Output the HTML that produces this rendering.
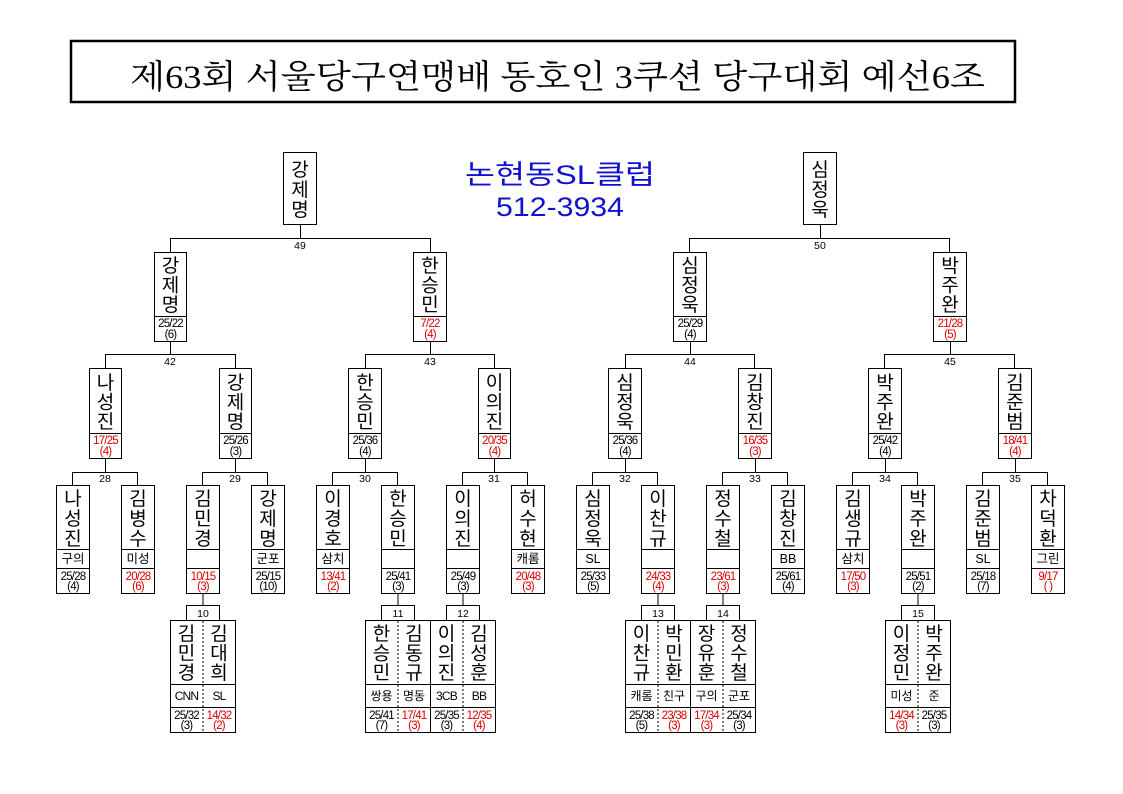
<!DOCTYPE html>
<html><head><meta charset="utf-8"><style>
html,body{margin:0;padding:0;background:#fff}
svg{display:block}
.n{font-family:"Liberation Sans","Noto Sans CJK KR",sans-serif;font-size:19px;text-anchor:middle;fill:#000}
.s{font-family:"Liberation Sans","Noto Sans CJK KR",sans-serif;font-size:11.5px;text-anchor:middle;fill:#000;letter-spacing:-0.8px}
.r{fill:#d00}
.c{font-family:"Liberation Sans","Noto Sans CJK KR",sans-serif;font-size:12.5px;text-anchor:middle;fill:#000}
.l{font-family:"Liberation Sans",sans-serif;font-size:10.5px;text-anchor:middle;fill:#000}
rect{fill:#fff;stroke:#000;stroke-width:1}
line,path{stroke:#000;stroke-width:1;fill:none}
.d{stroke-dasharray:2,2}
</style></head><body>
<svg width="1123" height="794" viewBox="0 0 1123 794" xmlns="http://www.w3.org/2000/svg">
<rect x="71" y="41" width="944" height="61" style="stroke-width:2.5"/>
<text x="130" y="88" textLength="855" lengthAdjust="spacingAndGlyphs" style="font-family:'Liberation Serif','Noto Serif CJK SC',serif;font-size:33px;fill:#000">제63회 서울당구연맹배 동호인 3쿠션 당구대회 예선6조</text>
<text x="560" y="184" textLength="190" lengthAdjust="spacingAndGlyphs" style="font-family:'Liberation Sans','Noto Sans CJK KR',sans-serif;font-size:27px;fill:#1010d0;text-anchor:middle">논현동SL클럽</text>
<text x="560" y="216" textLength="128" lengthAdjust="spacingAndGlyphs" style="font-family:'Liberation Sans',sans-serif;font-size:27px;fill:#1010d0;text-anchor:middle">512-3934</text>

<rect x="283.5" y="152.5" width="33" height="72"/>
<text class="n" y="176"><tspan x="300">강</tspan><tspan x="300" dy="20">제</tspan><tspan x="300" dy="20">명</tspan></text>
<rect x="803.5" y="152.5" width="33" height="72"/>
<text class="n" y="176"><tspan x="820">심</tspan><tspan x="820" dy="20">정</tspan><tspan x="820" dy="20">욱</tspan></text>
<path d="M300.5 224v14.5M170.5 252v-13.5h260v13.5"/><text class="l" x="300" y="249">49</text>
<path d="M820.5 224v14.5M689.5 252v-13.5h260v13.5"/><text class="l" x="820" y="249">50</text>

<g>
<rect x="154.5" y="252.5" width="32" height="89"/><line x1="154.5" y1="316.5" x2="186.5" y2="316.5"/>
<text class="n" y="272"><tspan x="170.5">강</tspan><tspan x="170.5" dy="19.5">제</tspan><tspan x="170.5" dy="19.5">명</tspan></text>
<text class="s" x="170.5" y="327">25/22</text><text class="s" x="170.5" y="338">(6)</text>
<rect x="413.5" y="252.5" width="33" height="89"/><line x1="413.5" y1="316.5" x2="446.5" y2="316.5"/>
<text class="n" y="272"><tspan x="430">한</tspan><tspan x="430" dy="19.5">승</tspan><tspan x="430" dy="19.5">민</tspan></text>
<text class="s r" x="430" y="327">7/22</text><text class="s r" x="430" y="338">(4)</text>
<rect x="673.5" y="252.5" width="33" height="89"/><line x1="673.5" y1="316.5" x2="706.5" y2="316.5"/>
<text class="n" y="272"><tspan x="690">심</tspan><tspan x="690" dy="19.5">정</tspan><tspan x="690" dy="19.5">욱</tspan></text>
<text class="s" x="690" y="327">25/29</text><text class="s" x="690" y="338">(4)</text>
<rect x="933.5" y="252.5" width="33" height="89"/><line x1="933.5" y1="316.5" x2="966.5" y2="316.5"/>
<text class="n" y="272"><tspan x="950">박</tspan><tspan x="950" dy="19.5">주</tspan><tspan x="950" dy="19.5">완</tspan></text>
<text class="s r" x="950" y="327">21/28</text><text class="s r" x="950" y="338">(5)</text>
</g>
<path d="M170.5 341v13.5M105.5 368v-13.5h130v13.5"/><text class="l" x="170" y="365">42</text>
<path d="M430.5 341v13.5M365.5 368v-13.5h129v13.5"/><text class="l" x="430" y="365">43</text>
<path d="M690.5 341v13.5M625.5 368v-13.5h129v13.5"/><text class="l" x="690" y="365">44</text>
<path d="M950.5 341v13.5M884.5 368v-13.5h130v13.5"/><text class="l" x="950" y="365">45</text>

<g>
<rect x="89.5" y="368.5" width="32" height="90"/><line x1="89.5" y1="433.5" x2="121.5" y2="433.5"/>
<text class="n" y="389"><tspan x="105.5">나</tspan><tspan x="105.5" dy="19.5">성</tspan><tspan x="105.5" dy="19.5">진</tspan></text>
<text class="s r" x="105.5" y="444">17/25</text><text class="s r" x="105.5" y="455">(4)</text>
<rect x="219.5" y="368.5" width="32" height="90"/><line x1="219.5" y1="433.5" x2="251.5" y2="433.5"/>
<text class="n" y="389"><tspan x="235.5">강</tspan><tspan x="235.5" dy="19.5">제</tspan><tspan x="235.5" dy="19.5">명</tspan></text>
<text class="s" x="235.5" y="444">25/26</text><text class="s" x="235.5" y="455">(3)</text>
<rect x="348.5" y="368.5" width="33" height="90"/><line x1="348.5" y1="433.5" x2="381.5" y2="433.5"/>
<text class="n" y="389"><tspan x="365">한</tspan><tspan x="365" dy="19.5">승</tspan><tspan x="365" dy="19.5">민</tspan></text>
<text class="s" x="365" y="444">25/36</text><text class="s" x="365" y="455">(4)</text>
<rect x="478.5" y="368.5" width="32" height="90"/><line x1="478.5" y1="433.5" x2="510.5" y2="433.5"/>
<text class="n" y="389"><tspan x="494.5">이</tspan><tspan x="494.5" dy="19.5">의</tspan><tspan x="494.5" dy="19.5">진</tspan></text>
<text class="s r" x="494.5" y="444">20/35</text><text class="s r" x="494.5" y="455">(4)</text>
<rect x="608.5" y="368.5" width="33" height="90"/><line x1="608.5" y1="433.5" x2="641.5" y2="433.5"/>
<text class="n" y="389"><tspan x="625">심</tspan><tspan x="625" dy="19.5">정</tspan><tspan x="625" dy="19.5">욱</tspan></text>
<text class="s" x="625" y="444">25/36</text><text class="s" x="625" y="455">(4)</text>
<rect x="738.5" y="368.5" width="33" height="90"/><line x1="738.5" y1="433.5" x2="771.5" y2="433.5"/>
<text class="n" y="389"><tspan x="755">김</tspan><tspan x="755" dy="19.5">창</tspan><tspan x="755" dy="19.5">진</tspan></text>
<text class="s r" x="755" y="444">16/35</text><text class="s r" x="755" y="455">(3)</text>
<rect x="868.5" y="368.5" width="33" height="90"/><line x1="868.5" y1="433.5" x2="901.5" y2="433.5"/>
<text class="n" y="389"><tspan x="885">박</tspan><tspan x="885" dy="19.5">주</tspan><tspan x="885" dy="19.5">완</tspan></text>
<text class="s" x="885" y="444">25/42</text><text class="s" x="885" y="455">(4)</text>
<rect x="998.5" y="368.5" width="33" height="90"/><line x1="998.5" y1="433.5" x2="1031.5" y2="433.5"/>
<text class="n" y="389"><tspan x="1015">김</tspan><tspan x="1015" dy="19.5">준</tspan><tspan x="1015" dy="19.5">범</tspan></text>
<text class="s r" x="1015" y="444">18/41</text><text class="s r" x="1015" y="455">(4)</text>
</g>
<path d="M105.5 458v14.5M72.5 485v-12.5h65v12.5"/><text class="l" x="105" y="482">28</text>
<path d="M235.5 458v14.5M202.5 485v-12.5h65v12.5"/><text class="l" x="235" y="482">29</text>
<path d="M365.5 458v14.5M332.5 485v-12.5h65v12.5"/><text class="l" x="365" y="482">30</text>
<path d="M494.5 458v14.5M462.5 485v-12.5h65v12.5"/><text class="l" x="494" y="482">31</text>
<path d="M625.5 458v14.5M592.5 485v-12.5h65v12.5"/><text class="l" x="625" y="482">32</text>
<path d="M755.5 458v14.5M722.5 485v-12.5h65v12.5"/><text class="l" x="755" y="482">33</text>
<path d="M885.5 458v14.5M852.5 485v-12.5h65v12.5"/><text class="l" x="885" y="482">34</text>
<path d="M1015.5 458v14.5M982.5 485v-12.5h65v12.5"/><text class="l" x="1015" y="482">35</text>

<g>
<rect x="56.5" y="485.5" width="33" height="108"/><path d="M56.5 549.5h33M56.5 568.5h33"/>
<text class="n" y="505"><tspan x="73">나</tspan><tspan x="73" dy="20">성</tspan><tspan x="73" dy="20">진</tspan></text>
<text class="c" x="73" y="563">구의</text><text class="s" x="73" y="580">25/28</text><text class="s" x="73" y="590">(4)</text>

<rect x="121.5" y="485.5" width="33" height="108"/><path d="M121.5 549.5h33M121.5 568.5h33"/>
<text class="n" y="505"><tspan x="138">김</tspan><tspan x="138" dy="20">병</tspan><tspan x="138" dy="20">수</tspan></text>
<text class="c" x="138" y="563">미성</text><text class="s r" x="138" y="580">20/28</text><text class="s r" x="138" y="590">(6)</text>

<rect x="186.5" y="485.5" width="33" height="108"/><path d="M186.5 549.5h33M186.5 568.5h33"/>
<text class="n" y="505"><tspan x="203">김</tspan><tspan x="203" dy="20">민</tspan><tspan x="203" dy="20">경</tspan></text>
<text class="s r" x="203" y="580">10/15</text><text class="s r" x="203" y="590">(3)</text>

<rect x="251.5" y="485.5" width="33" height="108"/><path d="M251.5 549.5h33M251.5 568.5h33"/>
<text class="n" y="505"><tspan x="268">강</tspan><tspan x="268" dy="20">제</tspan><tspan x="268" dy="20">명</tspan></text>
<text class="c" x="268" y="563">군포</text><text class="s" x="268" y="580">25/15</text><text class="s" x="268" y="590">(10)</text>

<rect x="316.5" y="485.5" width="33" height="108"/><path d="M316.5 549.5h33M316.5 568.5h33"/>
<text class="n" y="505"><tspan x="333">이</tspan><tspan x="333" dy="20">경</tspan><tspan x="333" dy="20">호</tspan></text>
<text class="c" x="333" y="563">삼치</text><text class="s r" x="333" y="580">13/41</text><text class="s r" x="333" y="590">(2)</text>

<rect x="381.5" y="485.5" width="33" height="108"/><path d="M381.5 549.5h33M381.5 568.5h33"/>
<text class="n" y="505"><tspan x="398">한</tspan><tspan x="398" dy="20">승</tspan><tspan x="398" dy="20">민</tspan></text>
<text class="s" x="398" y="580">25/41</text><text class="s" x="398" y="590">(3)</text>

<rect x="446.5" y="485.5" width="33" height="108"/><path d="M446.5 549.5h33M446.5 568.5h33"/>
<text class="n" y="505"><tspan x="463">이</tspan><tspan x="463" dy="20">의</tspan><tspan x="463" dy="20">진</tspan></text>
<text class="s" x="463" y="580">25/49</text><text class="s" x="463" y="590">(3)</text>

<rect x="511.5" y="485.5" width="33" height="108"/><path d="M511.5 549.5h33M511.5 568.5h33"/>
<text class="n" y="505"><tspan x="528">허</tspan><tspan x="528" dy="20">수</tspan><tspan x="528" dy="20">현</tspan></text>
<text class="c" x="528" y="563">캐롬</text><text class="s r" x="528" y="580">20/48</text><text class="s r" x="528" y="590">(3)</text>

<rect x="576.5" y="485.5" width="33" height="108"/><path d="M576.5 549.5h33M576.5 568.5h33"/>
<text class="n" y="505"><tspan x="593">심</tspan><tspan x="593" dy="20">정</tspan><tspan x="593" dy="20">욱</tspan></text>
<text class="c" x="593" y="563">SL</text><text class="s" x="593" y="580">25/33</text><text class="s" x="593" y="590">(5)</text>

<rect x="641.5" y="485.5" width="33" height="108"/><path d="M641.5 549.5h33M641.5 568.5h33"/>
<text class="n" y="505"><tspan x="658">이</tspan><tspan x="658" dy="20">찬</tspan><tspan x="658" dy="20">규</tspan></text>
<text class="s r" x="658" y="580">24/33</text><text class="s r" x="658" y="590">(4)</text>

<rect x="706.5" y="485.5" width="33" height="108"/><path d="M706.5 549.5h33M706.5 568.5h33"/>
<text class="n" y="505"><tspan x="723">정</tspan><tspan x="723" dy="20">수</tspan><tspan x="723" dy="20">철</tspan></text>
<text class="s r" x="723" y="580">23/61</text><text class="s r" x="723" y="590">(3)</text>

<rect x="771.5" y="485.5" width="33" height="108"/><path d="M771.5 549.5h33M771.5 568.5h33"/>
<text class="n" y="505"><tspan x="788">김</tspan><tspan x="788" dy="20">창</tspan><tspan x="788" dy="20">진</tspan></text>
<text class="c" x="788" y="563">BB</text><text class="s" x="788" y="580">25/61</text><text class="s" x="788" y="590">(4)</text>

<rect x="836.5" y="485.5" width="33" height="108"/><path d="M836.5 549.5h33M836.5 568.5h33"/>
<text class="n" y="505"><tspan x="853">김</tspan><tspan x="853" dy="20">생</tspan><tspan x="853" dy="20">규</tspan></text>
<text class="c" x="853" y="563">삼치</text><text class="s r" x="853" y="580">17/50</text><text class="s r" x="853" y="590">(3)</text>

<rect x="901.5" y="485.5" width="33" height="108"/><path d="M901.5 549.5h33M901.5 568.5h33"/>
<text class="n" y="505"><tspan x="918">박</tspan><tspan x="918" dy="20">주</tspan><tspan x="918" dy="20">완</tspan></text>
<text class="s" x="918" y="580">25/51</text><text class="s" x="918" y="590">(2)</text>

<rect x="966.5" y="485.5" width="33" height="108"/><path d="M966.5 549.5h33M966.5 568.5h33"/>
<text class="n" y="505"><tspan x="983">김</tspan><tspan x="983" dy="20">준</tspan><tspan x="983" dy="20">범</tspan></text>
<text class="c" x="983" y="563">SL</text><text class="s" x="983" y="580">25/18</text><text class="s" x="983" y="590">(7)</text>

<rect x="1031.5" y="485.5" width="33" height="108"/><path d="M1031.5 549.5h33M1031.5 568.5h33"/>
<text class="n" y="505"><tspan x="1048">차</tspan><tspan x="1048" dy="20">덕</tspan><tspan x="1048" dy="20">환</tspan></text>
<text class="c" x="1048" y="563">그린</text><text class="s r" x="1048" y="580">9/17</text><text class="s r" x="1048" y="590">( )</text>
</g>

<g>
<path d="M203 593v12"/><rect x="186.5" y="605.5" width="33" height="15"/><text class="l" x="203" y="617">10</text>
<path d="M398 593v12"/><rect x="381.5" y="605.5" width="33" height="15"/><text class="l" x="398" y="617">11</text>
<path d="M463 593v12"/><rect x="446.5" y="605.5" width="33" height="15"/><text class="l" x="463" y="617">12</text>
<path d="M658 593v12"/><rect x="641.5" y="605.5" width="33" height="15"/><text class="l" x="658" y="617">13</text>
<path d="M723 593v12"/><rect x="706.5" y="605.5" width="33" height="15"/><text class="l" x="723" y="617">14</text>
<path d="M918 593v12"/><rect x="901.5" y="605.5" width="33" height="15"/><text class="l" x="918" y="617">15</text>
</g>

<g>
<rect x="170.5" y="620.5" width="65" height="112"/><path d="M170.5 684.5h65M170.5 707.5h65"/><line class="d" x1="203" y1="621" x2="203" y2="732"/>
<text class="n" y="640"><tspan x="186.5">김</tspan><tspan x="186.5" dy="19.5">민</tspan><tspan x="186.5" dy="19.5">경</tspan></text>
<text class="n" y="640"><tspan x="219">김</tspan><tspan x="219" dy="19.5">대</tspan><tspan x="219" dy="19.5">희</tspan></text>
<text class="s" x="186.5" y="700" style="font-size:12px">CNN</text><text class="s" x="219" y="700" style="font-size:12px">SL</text>
<text class="s" x="186.5" y="719">25/32</text><text class="s" x="186.5" y="729">(3)</text>
<text class="s r" x="219" y="719">14/32</text><text class="s r" x="219" y="729">(2)</text>

<rect x="365.5" y="620.5" width="65" height="112"/><path d="M365.5 684.5h65M365.5 707.5h65"/><line class="d" x1="398" y1="621" x2="398" y2="732"/>
<text class="n" y="640"><tspan x="381.5">한</tspan><tspan x="381.5" dy="19.5">승</tspan><tspan x="381.5" dy="19.5">민</tspan></text>
<text class="n" y="640"><tspan x="414">김</tspan><tspan x="414" dy="19.5">동</tspan><tspan x="414" dy="19.5">규</tspan></text>
<text class="c" x="381.5" y="700" style="font-size:12px">쌍용</text><text class="c" x="414" y="700" style="font-size:12px">명동</text>
<text class="s" x="381.5" y="719">25/41</text><text class="s" x="381.5" y="729">(7)</text>
<text class="s r" x="414" y="719">17/41</text><text class="s r" x="414" y="729">(3)</text>

<rect x="430.5" y="620.5" width="65" height="112"/><path d="M430.5 684.5h65M430.5 707.5h65"/><line class="d" x1="463" y1="621" x2="463" y2="732"/>
<text class="n" y="640"><tspan x="446.5">이</tspan><tspan x="446.5" dy="19.5">의</tspan><tspan x="446.5" dy="19.5">진</tspan></text>
<text class="n" y="640"><tspan x="479">김</tspan><tspan x="479" dy="19.5">성</tspan><tspan x="479" dy="19.5">훈</tspan></text>
<text class="s" x="446.5" y="700" style="font-size:12px">3CB</text><text class="s" x="479" y="700" style="font-size:12px">BB</text>
<text class="s" x="446.5" y="719">25/35</text><text class="s" x="446.5" y="729">(3)</text>
<text class="s r" x="479" y="719">12/35</text><text class="s r" x="479" y="729">(4)</text>

<rect x="625.5" y="620.5" width="65" height="112"/><path d="M625.5 684.5h65M625.5 707.5h65"/><line class="d" x1="658" y1="621" x2="658" y2="732"/>
<text class="n" y="640"><tspan x="641.5">이</tspan><tspan x="641.5" dy="19.5">찬</tspan><tspan x="641.5" dy="19.5">규</tspan></text>
<text class="n" y="640"><tspan x="674">박</tspan><tspan x="674" dy="19.5">민</tspan><tspan x="674" dy="19.5">환</tspan></text>
<text class="c" x="641.5" y="700" style="font-size:12px">캐롬</text><text class="c" x="674" y="700" style="font-size:12px">친구</text>
<text class="s" x="641.5" y="719">25/38</text><text class="s" x="641.5" y="729">(5)</text>
<text class="s r" x="674" y="719">23/38</text><text class="s r" x="674" y="729">(3)</text>

<rect x="690.5" y="620.5" width="65" height="112"/><path d="M690.5 684.5h65M690.5 707.5h65"/><line class="d" x1="723" y1="621" x2="723" y2="732"/>
<text class="n" y="640"><tspan x="706.5">장</tspan><tspan x="706.5" dy="19.5">유</tspan><tspan x="706.5" dy="19.5">훈</tspan></text>
<text class="n" y="640"><tspan x="739">정</tspan><tspan x="739" dy="19.5">수</tspan><tspan x="739" dy="19.5">철</tspan></text>
<text class="c" x="706.5" y="700" style="font-size:12px">구의</text><text class="c" x="739" y="700" style="font-size:12px">군포</text>
<text class="s r" x="706.5" y="719">17/34</text><text class="s r" x="706.5" y="729">(3)</text>
<text class="s" x="739" y="719">25/34</text><text class="s" x="739" y="729">(3)</text>

<rect x="885.5" y="620.5" width="65" height="112"/><path d="M885.5 684.5h65M885.5 707.5h65"/><line class="d" x1="918" y1="621" x2="918" y2="732"/>
<text class="n" y="640"><tspan x="901.5">이</tspan><tspan x="901.5" dy="19.5">정</tspan><tspan x="901.5" dy="19.5">민</tspan></text>
<text class="n" y="640"><tspan x="934">박</tspan><tspan x="934" dy="19.5">주</tspan><tspan x="934" dy="19.5">완</tspan></text>
<text class="c" x="901.5" y="700" style="font-size:12px">미성</text><text class="c" x="934" y="700" style="font-size:12px">준</text>
<text class="s r" x="901.5" y="719">14/34</text><text class="s r" x="901.5" y="729">(3)</text>
<text class="s" x="934" y="719">25/35</text><text class="s" x="934" y="729">(3)</text>
</g>
</svg>
</body></html>
